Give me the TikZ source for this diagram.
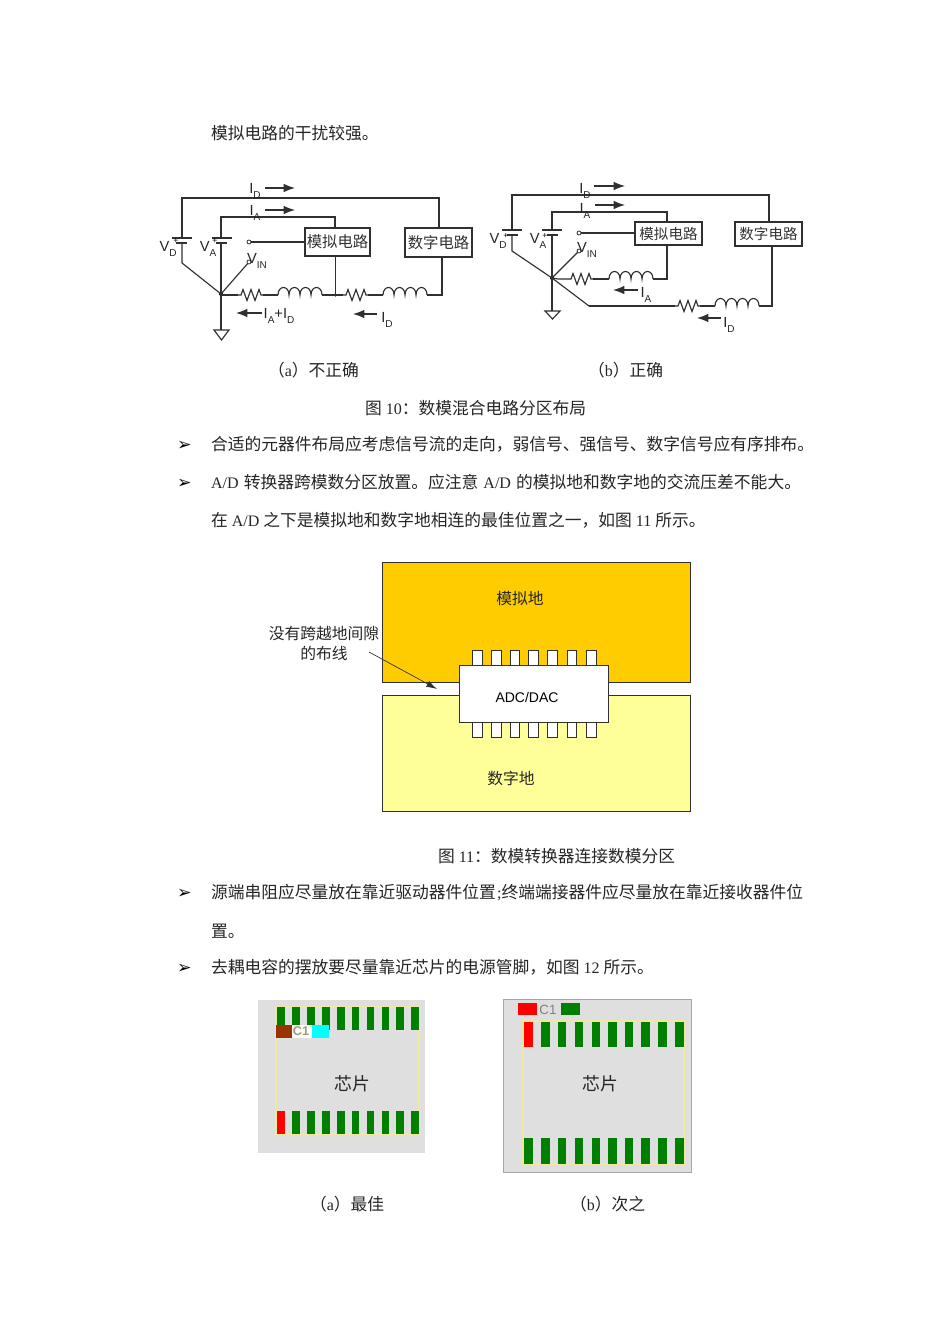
\documentclass[tikz,border=0pt]{standalone}
\usepackage{fontspec}
\usetikzlibrary{arrows.meta}
\setmainfont{Liberation Serif}
\setsansfont{Liberation Sans}
\newfontfamily\cjk[Scale=1.047]{Noto Sans CJK SC}
\newfontfamily\djfont{DejaVu Sans}
\newcommand\zh[1]{{\cjk #1}}
\newcommand\lab[2]{\textsf{#1\raisebox{-.36em}{\fontsize{7.5}{8}\selectfont #2}}}
\definecolor{orng}{HTML}{FFCC00}
\definecolor{ylw}{HTML}{FFFF99}
\definecolor{grn}{HTML}{007F00}
\definecolor{bgg}{HTML}{DFDFDF}
\definecolor{lne}{HTML}{EFE9A0}
\definecolor{brn}{HTML}{993300}
\definecolor{cyn}{HTML}{00FFFF}
\definecolor{edge}{HTML}{303030}
\tikzset{
  x=0.75pt,y=-0.75pt,
  every node/.style={inner sep=0pt,outer sep=0pt},
  body/.style={anchor=base west,font=\fontsize{12}{14}\selectfont,text=black!85},
  bullet/.style={anchor=base west,font=\fontsize{13}{14}\selectfont\djfont},
  mid/.style={anchor=center,font=\fontsize{11.3}{14}\selectfont,text=black!85},
  wire/.style={draw=edge,line width=0.85pt},
  cbox/.style={draw=edge,line width=0.8pt,fill=white,anchor=center,font=\fontsize{#1}{13}\selectfont,text=black!80},
  curarrow/.style={draw=edge,line width=0.9pt,-{Latex[length=8.5pt,width=6.5pt]}},
  lbl/.style={anchor=center,font=\fontsize{11}{12}\selectfont,text=black!85},
  plusmark/.style={anchor=center,font=\fontsize{6.5}{7}\selectfont\sffamily},
  term/.style={circle,draw=edge,fill=white,line width=0.6pt,minimum size=3pt},
  dotnode/.style={circle,fill=black,minimum size=3pt},
  gnd/.style={draw=edge,line width=0.85pt},
  area/.style={draw=edge,line width=0.55pt},
  pin/.style={draw=edge,line width=0.55pt,fill=white},
  res/.pic={\draw[wire] (0,0) -- (3,0) -- (5,-5.5) -- (9,5.5) -- (13,-5.5) -- (17,5.5) -- (21,-5.5) -- (23,0) -- (25,0);},
  ind/.pic={\draw[wire] (0,0) .. controls (0,-10) and (11,-10) .. (11,0)
     .. controls (11,-10) and (22,-10) .. (22,0)
     .. controls (22,-10) and (33,-10) .. (33,0)
     .. controls (33,-10) and (44,-10) .. (44,0);},
}
\begin{document}
\begin{tikzpicture}
\useasboundingbox (0,0) rectangle (950,1344);
\fill[white] (0,0) rectangle (950,1344);

% body text
\node[body] (t1) at (211,139.5) {\zh{模拟电路的干扰较强。}};
\node[body] (c1) at (268,376) {\zh{（}a\zh{）不正确}};
\node[body] (c2) at (588,376) {\zh{（}b\zh{）正确}};
\node[body] (c3) at (365,414) {\zh{图} 10\zh{：数模混合电路分区布局}};
\node[bullet] (b1) at (177,450) {➢};
\node[body] (t2) at (211,450) {\zh{合适的元器件布局应考虑信号流的走向，弱信号、强信号、数字信号应有序排布。}};
\node[bullet] (b2) at (177,488) {➢};
\node[body] (t3) at (211,488) {\makebox[442.5pt][s]{A/D \zh{转换器跨模数分区放置。应注意} A/D \zh{的模拟地和数字地的交流压差不能大。}}};
\node[body] (t4) at (211,526) {\zh{在} A/D \zh{之下是模拟地和数字地相连的最佳位置之一，如图} 11 \zh{所示。}};
\node[body] (c4) at (438,862) {\zh{图} 11\zh{：数模转换器连接数模分区}};
\node[bullet] (b3) at (177,898) {➢};
\node[body] (t5) at (211,898) {\zh{源端串阻应尽量放在靠近驱动器件位置}\kern1pt;\zh{终端端接器件应尽量放在靠近接收器件位}};
\node[body] (t6) at (211,937) {\zh{置。}};
\node[bullet] (b4) at (177,973) {➢};
\node[body] (t7) at (211,973) {\zh{去耦电容的摆放要尽量靠近芯片的电源管脚，如图} 12 \zh{所示。}};
\node[body] (c5) at (310,1210) {\zh{（}a\zh{）最佳}};
\node[body] (c6) at (570,1210) {\zh{（}b\zh{）次之}};

% ---------- circuit (a)
\node[cbox=11,minimum width=48.75pt,minimum height=21pt] (aan) at (337.5,242) {\zh{模拟电路}};
\node[cbox=11,minimum width=50.25pt,minimum height=21.75pt] (adg) at (438.5,242.5) {\zh{数字电路}};
\coordinate (aj) at (221,294);
\coordinate (an) at (335.5,295);
\coordinate (avdt) at (182,238); \coordinate (avdb) at (182,243);
\coordinate (avat) at (221,238); \coordinate (avab) at (221,243);
\coordinate (adgt) at (439,231); \coordinate (adgb) at (442,254);
\coordinate (aant) at (335,231);
\node[term] (at1) at (249,242) {};
\node[term] (at2) at (249,262) {};
\node[dotnode] (ajd) at (aj) {};
\node[dotnode,minimum size=2.5pt] (and) at (an) {};
\draw[wire] (avdt) -- (182,198) -- (439,198) -- (adg.north -| adgt);
\draw[wire] (avat) -- (221,217) -- (335,217) -- (aan.north -| aant);
\draw[wire] (avdb) -- (182,263) -- (aj);
\draw[wire] (avab) -- (aj);
\draw[wire] (at1) -- (at1 -| aan.west);
\draw[wire] (at2) -- (aj);
\draw[wire] (aan.south -| an) -- (an);
\draw[wire,line width=1.1pt] (172,238) -- (192,238);
\draw[wire,line width=1.1pt] (212,238) -- (232,238);
\draw[wire] (176,243) -- (187,243);
\draw[wire] (216,243) -- (227,243);
\coordinate (agt) at (221,330);
\draw[wire] (aj) -- (agt);
\draw[gnd] (214,330) -- (229,330) -- (221.5,340) -- cycle;
\draw[wire] (aj) -- (221,295) -- (238,295);
\pic at (238,295) {res};
\draw[wire] (263,295) -- (278,295);
\pic at (278,295) {ind};
\draw[wire] (322,295) -- (an) -- (343,295);
\pic at (343,295) {res};
\draw[wire] (368,295) -- (383,295);
\pic at (383,295) {ind};
\draw[wire] (427,295) -- (442,295) -- (adg.south -| adgb);
\draw[curarrow] (265,188) -- (295,188);
\draw[curarrow] (265,210) -- (295,210);
\draw[curarrow] (262,313) -- (236,313);
\draw[curarrow] (377,314) -- (353,314);
\node[lbl] (la1) at (168,249) {\lab{V}{D}};
\node[lbl] (la2) at (208,249) {\lab{V}{A}};
\node[plusmark] (la3) at (176,241.5) {+};
\node[plusmark] (la4) at (215,241.5) {+};
\node[lbl] (la5) at (257,261) {\lab{V}{IN}};
\node[lbl] (la6) at (255,191) {\lab{I}{D}};
\node[lbl] (la7) at (255,213) {\lab{I}{A}};
\node[lbl] (la8) at (279,316) {\lab{I}{A}\textsf{+}\lab{I}{D}};
\node[lbl] (la9) at (387,320) {\lab{I}{D}};

% ---------- circuit (b)
\node[cbox=10.4,minimum width=50.25pt,minimum height=17.25pt] (ban) at (668.5,233.5) {\zh{模拟电路}};
\node[cbox=10.4,minimum width=50.25pt,minimum height=18pt] (bdg) at (768.5,234) {\zh{数字电路}};
\coordinate (bj) at (552,278);
\coordinate (bk) at (589,306);
\coordinate (bdgx) at (769,200);
\coordinate (banx) at (667,200);
\coordinate (bdgy) at (772,300);
\node[term] (bt1) at (579,233) {};
\node[term] (bt2) at (579,251) {};
\node[dotnode] (bjd) at (bj) {};
\draw[wire] (512,230) -- (512,195) -- (769,195) -- (bdg.north -| bdgx);
\draw[wire] (552,230) -- (552,212) -- (667,212) -- (ban.north -| banx);
\draw[wire] (512,235) -- (512,251) -- (bj) -- (bk);
\draw[wire] (552,235) -- (bj) -- (552,311);
\draw[wire] (bt1) -- (bt1 -| ban.west);
\draw[wire] (bt2) -- (bj);
\draw[wire,line width=1.1pt] (502,230) -- (522,230);
\draw[wire,line width=1.1pt] (542,230) -- (562,230);
\draw[wire] (507,235) -- (518,235);
\draw[wire] (547,235) -- (558,235);
\draw[gnd] (545,311) -- (560,311) -- (552.5,319) -- cycle;
\draw[wire] (bj) -- (558,279) -- (568,279);
\pic at (568,279) {res};
\draw[wire] (593,279) -- (609,279);
\pic at (609,279) {ind};
\draw[wire] (653,279) -- (667,279) -- (ban.south -| banx);
\draw[wire] (bk) -- (675,306);
\pic at (675,306) {res};
\draw[wire] (700,306) -- (715,306);
\pic at (715,306) {ind};
\draw[wire] (759,306) -- (772,306) -- (bdg.south -| bdgy);
\draw[curarrow] (594,186) -- (625,186);
\draw[curarrow] (595,205) -- (625,205);
\draw[curarrow] (638,290) -- (613,290);
\draw[curarrow] (721,318) -- (697,318);
\node[lbl] (lb1) at (498,241) {\lab{V}{D}};
\node[lbl] (lb2) at (538,241) {\lab{V}{A}};
\node[plusmark] (lb3) at (506,236) {+};
\node[plusmark] (lb4) at (545,236) {+};
\node[lbl] (lb5) at (587,250) {\lab{V}{IN}};
\node[lbl] (lb6) at (585,191) {\lab{I}{D}};
\node[lbl] (lb7) at (585,211) {\lab{I}{A}};
\node[lbl] (lb8) at (646,295) {\lab{I}{A}};
\node[lbl] (lb9) at (729,325) {\lab{I}{D}};

% ---------- figure 11
\draw[area,fill=orng] (382,562) rectangle (690,682);
\draw[area,fill=ylw] (382,695) rectangle (690,811);
\foreach \a/\b in {472/482,491/501,510/519,528/538,547/557,567/576,586/596}{
  \draw[pin] (\a,650) rectangle (\b,665);
  \draw[pin] (\a,722) rectangle (\b,737);
}
\node[draw=edge,line width=0.6pt,fill=white,minimum width=111.75pt,minimum height=42.75pt] (adc) at (533.5,693.5) {};
\node[anchor=center,font=\fontsize{10.5}{12}\selectfont\sffamily] (adct) at (527,697) {ADC/DAC};
\node[mid] (m1) at (520,598.5) {\zh{模拟地}};
\node[mid] (m2) at (511,778.5) {\zh{数字地}};
\node[mid] (m3) at (324,633.5) {\zh{没有跨越地间隙}};
\node[mid] (m4) at (324,653.5) {\zh{的布线}};
\coordinate (as) at (369,652);
\coordinate (ae) at (437,689);
\draw[draw=edge,line width=0.5pt,-{Latex[length=8pt,width=5pt]}] (as) -- (ae);

% ---------- figure 12 (a)
\fill[bgg] (258,1000) rectangle (425,1153);
\draw[lne,line width=0.9pt] (276,1007) rectangle (419,1134);
\foreach \a in {277,292,307,322,337,351.5,366.5,381.5,396,411}{
  \fill[grn] (\a,1007) rectangle +(7.5,23);
  \fill[grn] (\a,1111) rectangle +(7.5,23);
}
\fill[red] (277,1111) rectangle +(7.5,23);
\fill[brn] (276,1025) rectangle (292,1038);
\fill[white!92!yellow] (292,1025) rectangle (312,1038);
\fill[cyn] (312,1025) rectangle (329,1038);
\node[anchor=center,font=\bfseries\fontsize{9.5}{11}\selectfont\sffamily,text=black!40] (ca) at (301,1031) {C1};
\node[mid,font=\fontsize{12.8}{15}\selectfont] (ta) at (352,1084) {\zh{芯片}};

% ---------- figure 12 (b)
\fill[bgg] (503,999) rectangle (691,1172);
\draw[black!35,line width=0.4pt] (503,999) rectangle (691,1172);
\draw[lne,line width=0.9pt] (523,1021) rectangle (684,1164);
\foreach \a in {524,541,557.5,574.5,591.5,608,624.5,641,658,675}{
  \fill[grn] (\a,1022) rectangle +(8.7,25);
  \fill[grn] (\a,1138) rectangle +(8.7,26);
}
\fill[red] (524,1022) rectangle +(8.7,25);
\fill[red] (518,1003) rectangle (537,1015);
\fill[grn] (561,1003) rectangle (580,1015);
\node[anchor=center,font=\fontsize{10}{11}\selectfont\sffamily,text=black!50] (cb) at (548,1010) {C1};
\node[mid,font=\fontsize{12.8}{15}\selectfont] (tb) at (600,1084) {\zh{芯片}};
\end{tikzpicture}
\end{document}
